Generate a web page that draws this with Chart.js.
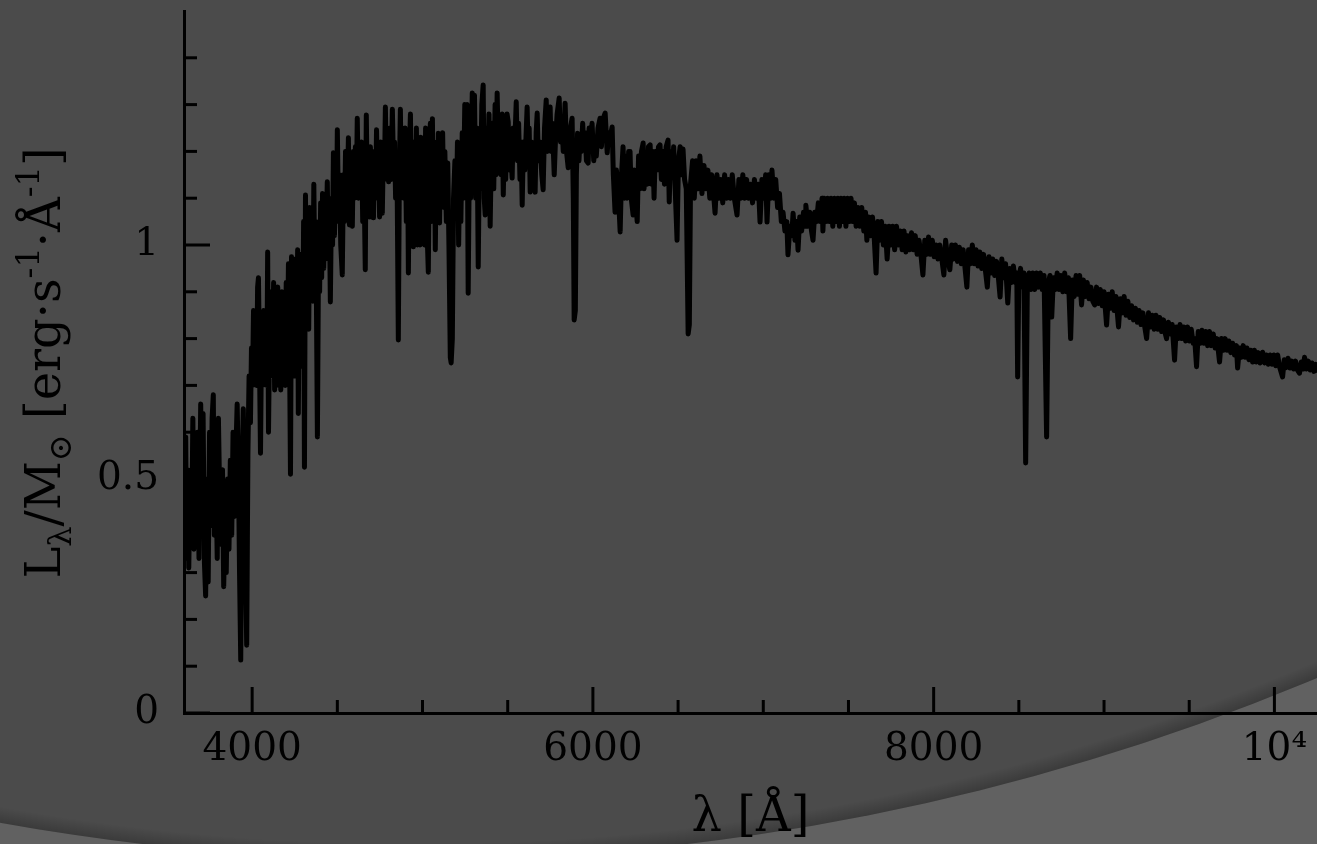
<!DOCTYPE html>
<html>
<head>
<meta charset="utf-8">
<script src="https://cdn.jsdelivr.net/npm/chart.js@4/dist/chart.umd.min.js"></script>
<style>
html,body{margin:0;padding:0;background:#4b4b4b;}
canvas{display:block;}
</style>
</head>
<body>
<canvas id="c" width="1317" height="844"></canvas>
<script>
// ---- data ----
// blue part of the spectrum (wavelength in Å, L/M in erg s^-1 Å^-1)
const wavelengthBlue = [
3603,3610,3615,3622,3628,3636,3645,3652,3658,3665,3672,3680,3688,3698,3705,3712,3720,3727,3735,3742,3750,3757,3765,3772,3778,3786,3795,3802,3810,3818,3826,3833,3840,3848,3856,3864,3872,3880,3888,3896,3904,3912,3920,3926,3933,3940,3948,3955,3962,3968,3975,3982,
3990,3996,4002,4008,4014,4020,4026,4032,4037,4043,4049,4055,4061,4068,4074,4080,4086,4091,4096,4102,4108,4114,4120,4126,4132,4138,4144,4150,4156,4162,4168,4175,4181,4188,4194,4200,4207,4213,4219,4225,4231,4237,4243,4249,4255,4262,4267,4271,4277,4283,4290,4296,4302,4307,4313,4319,4325,4332,4338,4344,4350,4356,4362,4368,4374,4383,4390,4396,4402,4408,4413,4420,4426,4432,4441,4447,4453,4459,4466,4472,4477,4483,4489,4495,4500,4507,4513,4520,4529,4536,4542,4548,4556,4565,4571,4577,4582,4588,4594,4600,4606,4612,4617,4624,4630,4636,4642,4649,4655,4664,4670,4676,4682,4688,4694,4700,4706,4712,4718,4725,4730,4736,4742,4748,4755,4764,4770,4776,4782,4788,4795,4801,4810,4816,4823,4830,4836,4842,4850,4858,4864,4870,4876,4882,4890,4898,4905,4912,4917,4923,4929,4935,4941,4946,4952,4958,4964,4970,4976,4985,4990,4997,5005,5012,5018,5025,5034,5040,5046,5052,5058,5064,5070,5075,5082,5088,5093,5100,5106,5112,5118,5125,5131,5140,5148,5155,5163,5168,5175,5182,5190,5198,5205,5212,5218,5225,5233,5240,5248,5255,5262,5268,5275,5282,5292,5298,5305,5312,5320,5327,5334,5340,5348,5356,5362,5368,5375,5382,5390,5397,5404,5410,5418,5426,5432,5438,5445,5452,5460,5468,5474,5480,5488,5496,5503,5510,5518,5526,5532,5540,5550,5557,5564,5572,5578,5585,5592,5600,5614,5620,5626,5632,5640,5648,5661,5667,5673,5680,5690,5700,5708,5716,5726,5732,5740,5749,5755,5762,5773,5780,5790,5802,5810,5818,5826,5837,5845,5855,5862,5868,5878,5885,5890,5897,5903,5910,5918,5925,5932,5940,5947,5955,5962,5972,5978,5986,5995,6005,6013,6020,6030,6042,6050,6060,6072,6084,6092,6101,6113,6120,6130,6138,6148,6160,6168,6177,6185,6192,6200,6210,6218,6225,6236,6243,6250,6260,6268,6276,6285,6295,6300,6310,6318,6326,6336,6344,6352,6359,6366,6375,6385,6394,6402,6412,6420,6430,6441,6448,6456,6465,6474,6482,6494,6502,6512,6520,6529,6538,6548,6559,6566
];
const luminosityBlue = [
0.55,0.59,0.33,0.52,0.31,0.50,0.38,0.63,0.35,0.55,0.42,0.60,0.33,0.66,0.45,0.64,0.32,0.25,0.50,0.28,0.60,0.40,0.63,0.68,0.38,0.55,0.33,0.63,0.45,0.36,0.52,0.27,0.40,0.30,0.50,0.35,0.54,0.38,0.60,0.42,0.55,0.66,0.50,0.30,0.113,0.50,0.65,0.45,0.30,0.145,0.55,0.72,
0.62,0.78,0.70,0.86,0.72,0.80,0.70,0.91,0.93,0.75,0.555,0.80,0.70,0.86,0.74,0.82,0.70,0.985,0.60,0.80,0.72,0.90,0.73,0.92,0.69,0.88,0.74,0.91,0.70,0.85,0.69,0.90,0.75,0.84,0.70,0.92,0.76,0.96,0.80,0.51,0.975,0.78,0.92,0.72,0.97,0.82,0.99,0.64,0.94,0.78,0.98,0.74,1.05,0.525,1.107,0.85,1.00,0.82,1.08,0.90,1.05,0.88,1.13,0.92,1.05,0.59,1.00,0.90,1.09,0.93,1.11,0.95,1.07,0.97,1.135,0.98,1.08,0.878,1.10,1.00,1.197,1.02,1.12,1.05,1.246,1.05,1.15,1.00,0.936,1.15,1.05,1.20,1.06,1.229,1.043,1.18,1.06,1.04,1.20,1.10,1.21,1.12,1.271,1.10,1.19,1.12,1.22,1.05,1.18,0.947,1.278,1.10,1.20,1.06,1.21,1.06,1.18,1.058,1.20,1.10,1.246,1.12,1.20,1.06,1.22,1.068,1.20,1.14,1.295,1.15,1.20,1.135,1.25,1.14,1.29,1.16,1.22,1.10,1.18,0.797,1.15,1.29,1.12,1.21,1.10,1.25,1.05,1.22,0.94,1.20,1.28,1.10,1.20,0.996,1.22,1.05,1.25,1.00,1.18,1.00,1.23,1.05,1.20,1.00,1.25,1.05,0.942,1.20,1.26,1.05,1.27,1.05,1.22,0.99,1.20,1.10,1.239,1.047,1.23,1.10,1.24,1.08,1.20,1.05,1.175,1.00,0.76,0.748,0.80,1.10,1.18,1.06,1.22,1.00,1.15,1.05,1.24,1.10,1.30,1.15,1.30,0.897,1.20,1.10,1.325,1.18,1.32,1.10,1.25,0.953,1.20,1.12,1.30,1.342,1.10,1.064,1.25,1.15,1.28,1.04,1.20,1.26,1.12,1.30,1.15,1.325,1.20,1.25,1.15,1.28,1.107,1.22,1.14,1.28,1.263,1.16,1.20,1.143,1.25,1.20,1.306,1.18,1.26,1.14,1.22,1.085,1.22,1.16,1.295,1.20,1.25,1.113,1.22,1.15,1.113,1.24,1.282,1.18,1.22,1.15,1.118,1.25,1.31,1.20,1.28,1.295,1.20,1.26,1.15,1.22,1.28,1.314,1.22,1.26,1.20,1.303,1.20,1.165,1.24,1.25,1.271,1.10,0.84,0.86,1.15,1.239,1.18,1.23,1.20,1.26,1.203,1.24,1.18,1.175,1.25,1.20,1.26,1.18,1.22,1.19,1.25,1.271,1.21,1.27,1.282,1.197,1.24,1.23,1.252,1.15,1.07,1.16,1.12,1.028,1.15,1.21,1.10,1.19,1.10,1.20,1.20,1.10,1.064,1.16,1.10,1.05,1.19,1.12,1.20,1.218,1.12,1.19,1.13,1.21,1.214,1.13,1.20,1.10,1.20,1.16,1.21,1.214,1.14,1.20,1.13,1.21,1.224,1.092,1.20,1.15,1.21,1.13,1.01,1.18,1.21,1.15,1.205,1.14,1.12,0.81,0.83
];
// red part of the spectrum as [wavelength, L/M] pairs
const spectrumRed = [
[6573,1.13],[6585,1.18],[6595,1.10],[6606,1.18],[6617,1.12],[6628,1.19],[6640,1.11],[6652,1.17],[6663,1.12],[6675,1.16],[6686,1.10],[6697,1.15],[6708,1.11],[6717,1.068],[6728,1.15],[6740,1.10],[6751,1.14],[6762,1.09],[6773,1.15],[6785,1.10],[6796,1.14],[6807,1.10],[6818,1.15],[6830,1.10],[6846,1.064],[6857,1.14],[6868,1.10],[6880,1.15],[6891,1.10],[6902,1.14],[6914,1.10],[6925,1.13],[6937,1.09],[6948,1.14],[6960,1.10],[6971,1.13],[6981,1.049],[6992,1.14],
[7003,1.10],[7014,1.15],[7022,1.049],[7033,1.15],[7044,1.10],[7051,1.16],[7062,1.10],[7073,1.14],[7084,1.08],[7095,1.11],[7106,1.05],[7116,1.07],[7127,1.03],[7138,1.05],[7145,0.979],[7156,1.04],[7167,1.02],[7175,1.068],[7186,1.01],[7196,1.05],[7204,0.989],[7214,1.06],[7225,1.03],[7236,1.07],[7246,1.04],[7250,1.085],[7262,1.04],[7273,1.07],[7283,1.03],[7292,1.01],[7302,1.07],[7313,1.05],[7323,1.09],[7334,1.05],[7345,1.10],[7350,1.03],[7358,1.10],[7368,1.05],[7378,1.10],[7388,1.05],[7398,1.10],[7408,1.04],[7418,1.10],[7428,1.05],[7438,1.10],[7447,1.04],[7456,1.10],[7465,1.05],[7475,1.10],[7485,1.04],[7495,1.10],
[7505,1.05],[7515,1.10],[7525,1.05],[7535,1.09],[7545,1.04],[7556,1.08],[7567,1.04],[7578,1.08],[7590,1.03],[7600,1.07],[7608,1.01],[7619,1.06],[7630,1.02],[7641,1.06],[7652,1.01],[7662,0.94],[7672,1.05],[7683,1.01],[7694,1.05],[7705,1.00],[7716,1.04],[7727,0.97],[7738,1.04],[7749,1.00],[7760,1.04],[7771,0.99],[7782,1.04],[7793,1.00],[7804,1.03],[7815,0.99],[7826,1.03],[7837,0.985],[7848,1.02],[7859,0.99],[7870,1.026],[7881,0.99],[7892,1.02],[7903,0.98],[7914,1.01],[7925,0.98],[7937,0.936],[7948,1.01],[7959,0.98],[7970,1.017],[7981,0.98],[7992,1.01],
[8003,0.975],[8014,1.00],[8025,0.97],[8036,1.00],[8048,0.97],[8060,0.936],[8070,1.01],[8081,0.975],[8095,0.947],[8106,1.00],[8117,0.97],[8128,1.00],[8140,0.965],[8151,0.995],[8162,0.96],[8173,0.99],[8183,0.955],[8195,0.91],[8205,0.99],[8216,0.96],[8227,1.00],[8238,0.96],[8249,0.99],[8260,0.955],[8271,0.985],[8282,0.95],[8293,0.98],[8304,0.945],[8315,0.91],[8325,0.975],[8336,0.94],[8347,0.97],[8358,0.935],[8369,0.965],[8380,0.93],[8390,0.889],[8400,0.97],[8411,0.93],[8422,0.96],[8435,0.876],[8446,0.95],[8457,0.92],[8468,0.955],[8480,0.92],[8488,0.94],[8493,0.718],[8500,0.93],
[8510,0.95],[8520,0.91],[8530,0.94],[8540,0.534],[8550,0.92],[8560,0.94],[8571,0.905],[8582,0.94],[8593,0.905],[8604,0.94],[8615,0.91],[8626,0.94],[8637,0.905],[8648,0.935],[8663,0.59],[8673,0.92],[8683,0.935],[8693,0.846],[8703,0.93],[8714,0.905],[8725,0.94],[8736,0.905],[8747,0.935],[8758,0.90],[8769,0.94],[8780,0.90],[8791,0.93],[8804,0.80],[8814,0.925],[8825,0.89],[8836,0.935],[8847,0.895],[8857,0.935],[8868,0.872],[8879,0.925],[8890,0.89],[8901,0.92],[8912,0.885],[8923,0.91],[8934,0.88],[8945,0.872],[8956,0.91],[8967,0.875],[8978,0.905],[8989,0.87],
[9000,0.90],[9015,0.829],[9026,0.895],[9037,0.865],[9048,0.90],[9059,0.86],[9070,0.89],[9085,0.825],[9096,0.885],[9107,0.855],[9118,0.89],[9129,0.85],[9140,0.88],[9151,0.845],[9162,0.87],[9173,0.84],[9184,0.865],[9195,0.835],[9206,0.86],[9217,0.83],[9228,0.855],[9239,0.825],[9250,0.80],[9261,0.855],[9272,0.825],[9283,0.85],[9294,0.82],[9305,0.85],[9316,0.82],[9327,0.845],[9338,0.815],[9349,0.84],[9360,0.81],[9367,0.80],[9378,0.835],[9389,0.81],[9400,0.83],[9414,0.754],[9424,0.825],[9435,0.80],[9446,0.83],[9457,0.80],[9468,0.825],[9479,0.795],[9490,0.825],
[9501,0.795],[9512,0.82],[9523,0.79],[9532,0.80],[9543,0.74],[9553,0.815],[9564,0.79],[9575,0.818],[9586,0.79],[9597,0.815],[9608,0.785],[9619,0.815],[9630,0.785],[9641,0.81],[9652,0.78],[9663,0.80],[9678,0.75],[9689,0.80],[9700,0.775],[9711,0.80],[9722,0.775],[9733,0.795],[9744,0.77],[9755,0.79],[9766,0.765],[9777,0.785],[9784,0.737],[9795,0.78],[9806,0.76],[9817,0.785],[9828,0.76],[9839,0.78],[9850,0.755],[9861,0.775],[9872,0.75],[9883,0.775],[9894,0.75],[9905,0.77],[9916,0.748],[9931,0.771],[9942,0.748],[9953,0.765],[9964,0.745],[9975,0.765],[9986,0.745],[9997,0.765],
[10008,0.742],[10019,0.765],[10030,0.74],[10048,0.718],[10058,0.755],[10069,0.738],[10080,0.758],[10091,0.737],[10102,0.752],[10113,0.735],[10124,0.752],[10135,0.733],[10147,0.726],[10158,0.75],[10169,0.735],[10177,0.76],[10188,0.735],[10199,0.752],[10210,0.733],[10221,0.748],[10232,0.73],[10243,0.745],[10254,0.732]
];
const xMajorTicks = [4000, 6000, 8000, 10000];
const xTickLabels = ['4000', '6000', '8000', '10⁴'];
const xMinorTicks = [4500, 5000, 5500, 6500, 7000, 7500, 8500, 9000, 9500];
const yMajorTicks = [0, 0.5, 1];
const yTickLabels = ['0', '0.5', '1'];
const yMinorTicks = [0.1, 0.2, 0.3, 0.4, 0.6, 0.7, 0.8, 0.9, 1.1, 1.2, 1.3, 1.4];
const xTitle = 'λ [Å]';
// y title pieces: [text, role] role 0=normal, -1=subscript, 1=superscript
const yTitleParts = [['L',0],['λ',-1],['/M',0],['⊙',-1],[' [erg·s',0],['-1',1],['·Å',0],['-1',1],[']',0]];

const FONT = '"DejaVu Serif", serif';

const points = wavelengthBlue.map((w, i) => ({ x: w, y: luminosityBlue[i] }))
  .concat(spectrumRed.map(p => ({ x: p[0], y: p[1] })));

const bgPlugin = {
  id: 'bg',
  beforeDraw(chart) {
    const ctx = chart.ctx, W = chart.width, H = chart.height;
    const cx = 415, cy = -1467, r = 2327;
    ctx.save();
    ctx.fillStyle = '#616161';
    ctx.fillRect(0, 0, W, H);
    ctx.beginPath();
    ctx.arc(cx, cy, r, 0, Math.PI * 2);
    ctx.fillStyle = '#4b4b4b';
    ctx.fill();
    const g = ctx.createRadialGradient(cx, cy, r - 16, cx, cy, r);
    g.addColorStop(0, 'rgba(0,0,0,0)');
    g.addColorStop(1, 'rgba(0,0,0,0.22)');
    ctx.beginPath();
    ctx.arc(cx, cy, r, 0, Math.PI * 2);
    ctx.fillStyle = g;
    ctx.fill();
    ctx.restore();
  }
};

const tickPlugin = {
  id: 'inticks',
  afterDraw(chart) {
    const ctx = chart.ctx, a = chart.chartArea;
    const xs = chart.scales.x, ys = chart.scales.y;
    ctx.save();
    ctx.strokeStyle = '#000';
    ctx.lineWidth = 3;
    ctx.lineCap = 'butt';
    const seg = (x1, y1, x2, y2) => { ctx.beginPath(); ctx.moveTo(x1, y1); ctx.lineTo(x2, y2); ctx.stroke(); };
    xMajorTicks.forEach(v => { const p = xs.getPixelForValue(v); seg(p, a.bottom, p, a.bottom - 26); });
    xMinorTicks.forEach(v => { const p = xs.getPixelForValue(v); seg(p, a.bottom, p, a.bottom - 13); });
    yMajorTicks.forEach(v => { const p = ys.getPixelForValue(v); seg(a.left, p, a.left + 26, p); });
    yMinorTicks.forEach(v => { const p = ys.getPixelForValue(v); seg(a.left, p, a.left + 13, p); });

    // y axis title with sub/superscripts
    const S = 48, s = 32;
    const fontFor = role => (role === 0 ? S : s) + 'px ' + FONT;
    let total = 0;
    yTitleParts.forEach(([t, role]) => { ctx.font = fontFor(role); total += ctx.measureText(t).width; });
    ctx.translate(60, (a.top + a.bottom) / 2 + 1);
    ctx.rotate(-Math.PI / 2);
    ctx.fillStyle = '#000';
    ctx.textBaseline = 'alphabetic';
    ctx.textAlign = 'left';
    let x = -total / 2;
    yTitleParts.forEach(([t, role]) => {
      ctx.font = fontFor(role);
      const dy = role === -1 ? 11 : role === 1 ? -21 : 0;
      ctx.fillText(t, x, dy);
      x += ctx.measureText(t).width;
    });
    ctx.restore();
  }
};

new Chart(document.getElementById('c'), {
  type: 'line',
  data: {
    datasets: [{
      data: points,
      borderColor: '#000',
      borderWidth: 5,
      pointRadius: 0,
      tension: 0,
      fill: false,
      borderJoinStyle: 'round',
      borderCapStyle: 'round'
    }]
  },
  options: {
    responsive: false,
    animation: false,
    events: [],
    layout: { padding: { top: 11, right: 0, bottom: 0, left: 0 } },
    plugins: { legend: { display: false }, tooltip: { enabled: false } },
    scales: {
      x: {
        type: 'linear',
        min: 3600,
        max: 10250,
        afterBuildTicks: sc => { sc.ticks = xMajorTicks.map(v => ({ value: v })); },
        afterFit: sc => { sc.height = 131; sc.paddingLeft = 0; sc.paddingRight = 0; },
        grid: { drawOnChartArea: false, drawTicks: false },
        border: { display: true, color: '#000', width: 3 },
        ticks: {
          autoSkip: false, maxRotation: 0, padding: 13, color: '#000',
          font: { family: FONT, size: 39 },
          callback: (v, i) => xTickLabels[i]
        },
        title: { display: true, text: xTitle, color: '#000', font: { family: FONT, size: 48 }, padding: { top: 0, bottom: -3 } }
      },
      y: {
        min: 0,
        max: 1.5,
        afterBuildTicks: sc => { sc.ticks = yMajorTicks.map(v => ({ value: v })); },
        afterFit: sc => { sc.width = 184; sc.paddingTop = 0; sc.paddingBottom = 0; },
        grid: { drawOnChartArea: false, drawTicks: false },
        border: { display: true, color: '#000', width: 3 },
        ticks: {
          padding: 25, color: '#000',
          font: { family: FONT, size: 39 },
          callback: (v, i) => yTickLabels[i]
        },
        title: { display: false }
      }
    }
  },
  plugins: [bgPlugin, tickPlugin]
});
</script>
</body>
</html>
